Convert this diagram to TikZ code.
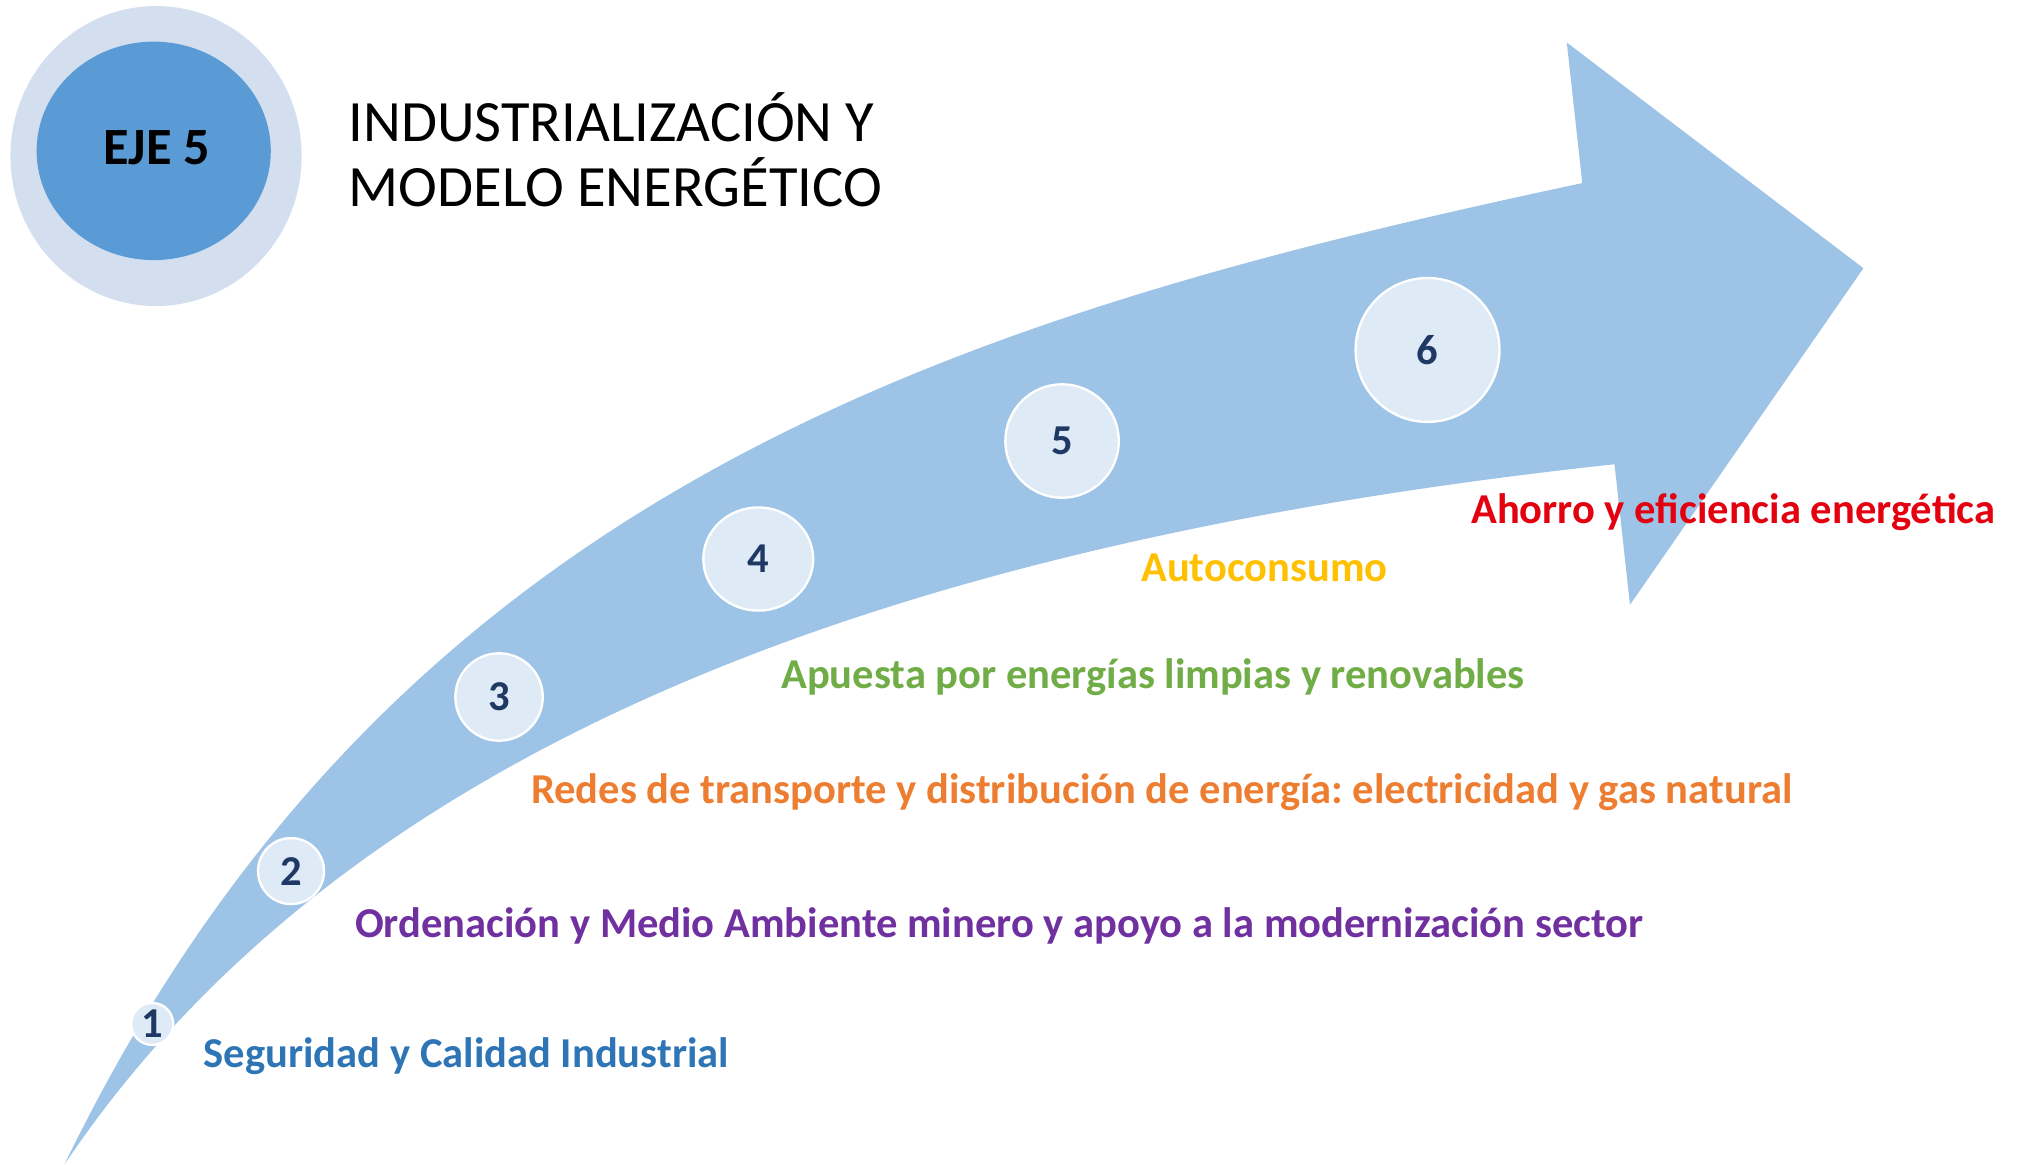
\documentclass[tikz,border=0pt]{standalone}
\usepackage{fontspec}
\setmainfont{Carlito}
\usepackage{xcolor}
\usetikzlibrary{shapes.geometric}
\frenchspacing

\definecolor{arrowblue}{HTML}{9DC3E6}
\definecolor{stepfill}{HTML}{DEEBF7}
\definecolor{stepnavy}{HTML}{203864}
\definecolor{halo}{HTML}{D3DEEF}
\definecolor{ejeblue}{HTML}{5B9BD5}
\definecolor{segblue}{HTML}{2E75B6}
\definecolor{ordpurple}{HTML}{7030A0}
\definecolor{redorange}{HTML}{ED7D31}
\definecolor{apugreen}{HTML}{70AD47}
\definecolor{autogold}{HTML}{FFC000}
\definecolor{ahored}{HTML}{E3000F}

\begin{document}
\begin{tikzpicture}[x=0.5pt,y=0.5pt,yscale=-1,xscale=1,
  stepcirc/.style={ellipse,draw=white,line width=0.9pt,fill=stepfill,inner sep=0pt,text=stepnavy,font=\fontsize{16.5}{19}\selectfont\bfseries},
  axislabel/.style={anchor=base west,inner sep=0pt,font=\fontsize{16.5}{19}\selectfont\bfseries},
  titletext/.style={anchor=base west,inner sep=0pt,font=\fontsize{22.7}{26}\selectfont}]
\useasboundingbox (0,0) rectangle (1568,903);

%Shape: Curved Right Arrow
\fill [arrowblue] (50,903) .. controls (303,381) and (738,246) .. (1227,142) -- (1215,33) -- (1445,208) -- (1264,469) -- (1252,360) .. controls (706,419) and (273,571) .. (50,903) -- cycle ;

%Shape: Ellipse
\node [ellipse,fill=halo,inner sep=0pt,minimum width=112.9pt,minimum height=116.3pt] (halo) at (121,121) {};
%Shape: Ellipse
\node [ellipse,fill=ejeblue,inner sep=0pt,minimum width=90.8pt,minimum height=84.7pt] (eje) at (119.2,117) {};
% Text Node
\node [anchor=base,inner sep=0pt,font=\fontsize{20.3}{24}\selectfont\bfseries] (ejetext) at (121.5,127.4) {EJE 5};

% Text Node
\node [titletext] (title1) at (270,110) {INDUSTRIALIZACIÓN Y};
% Text Node
\node [titletext] (title2) at (270,160) {MODELO ENERGÉTICO};

%Shape: Circle
\node [stepcirc,minimum width=16.3pt,minimum height=16.3pt] (step1) at (118,794) {1};
%Shape: Circle
\node [stepcirc,minimum width=25.6pt,minimum height=25.6pt] (step2) at (225.7,675.5) {2};
%Shape: Circle
\node [stepcirc,minimum width=33.9pt,minimum height=33.9pt] (step3) at (387,540.5) {3};
%Shape: Circle
\node [stepcirc,minimum width=42.6pt,minimum height=40pt] (step4) at (588,433.5) {4};
%Shape: Circle
\node [stepcirc,minimum width=44pt,minimum height=44pt] (step5) at (823.6,342) {5};
%Shape: Circle
\node [stepcirc,minimum width=55.8pt,minimum height=55.8pt] (step6) at (1107,271.4) {6};

% Text Node
\node [axislabel,text=segblue] (lab1) at (157.6,828) {Seguridad y Calidad Industrial};
% Text Node
\node [axislabel,text=ordpurple] (lab2) at (275,727) {Ordenación y Medio Ambiente minero y apoyo a la modernización sector};
% Text Node
\node [axislabel,text=redorange] (lab3) at (411.5,623) {Redes de transporte y distribución de energía: electricidad y gas natural};
% Text Node
\node [axislabel,text=apugreen] (lab4) at (605.4,533.7) {Apuesta por energías limpias y renovables};
% Text Node
\node [axislabel,text=autogold] (lab5) at (884.6,450.6) {Autoconsumo};
% Text Node
\node [axislabel,text=ahored] (lab6) at (1140.5,406) {Ahorro y eficiencia energética};

\end{tikzpicture}
\end{document}
